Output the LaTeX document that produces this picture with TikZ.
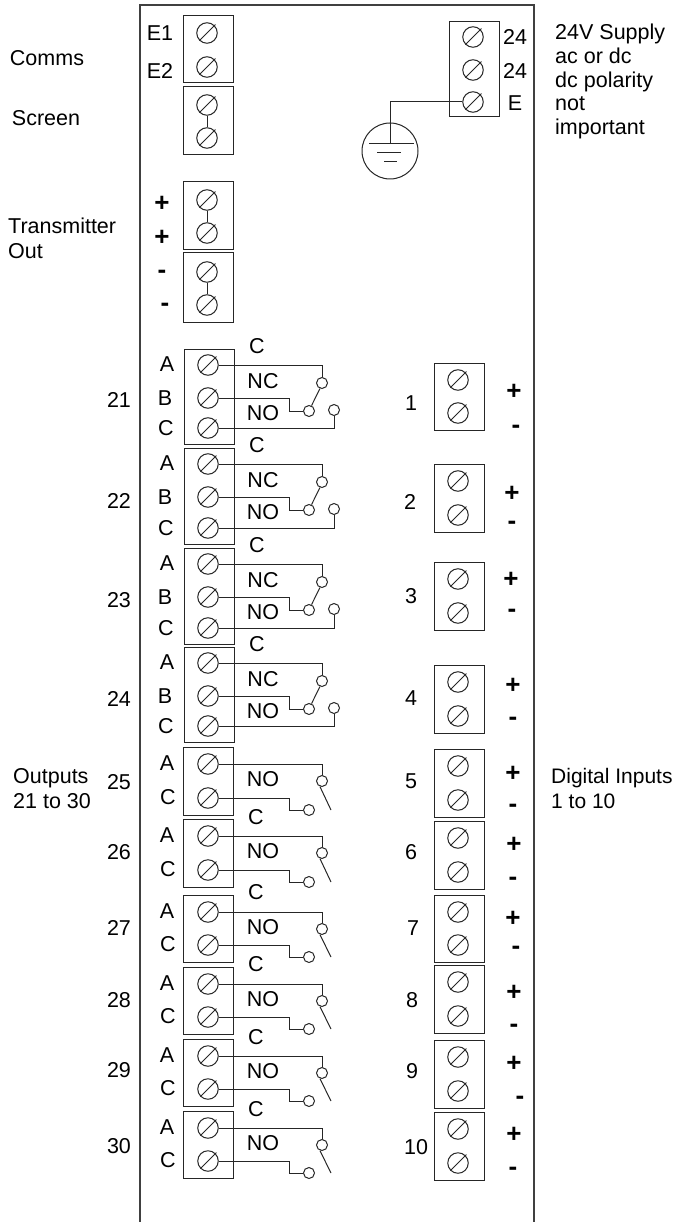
\documentclass[tikz,border=0pt]{standalone}
\usepackage{fontspec}
\setmainfont{Liberation Sans}
\usetikzlibrary{positioning}
\pgfkeys{tikz/lbl/.style={inner sep=0pt,text height=15pt,text depth=0pt,font=\fontsize{21.5}{25}\selectfont}}
\pgfkeys{tikz/sign/.style={inner sep=0pt,text height=17pt,text depth=0pt,font=\fontsize{26}{25}\selectfont\bfseries}}
\pgfkeys{tikz/para/.style={inner sep=0pt,anchor=north west,align=left,font=\fontsize{21.5}{25}\selectfont}}
\pgfkeys{tikz/termbox/.style={draw=black!85,line width=1pt,minimum width=50pt,inner sep=0pt}}
\pgfkeys{tikz/screwhead/.style={circle,draw=black!85,line width=1pt,minimum size=20.5pt,inner sep=0pt}}
\pgfkeys{tikz/contact/.style={circle,draw=black!85,line width=1pt,minimum size=11pt,inner sep=0pt}}
\pgfkeys{tikz/wire/.style={draw=black!85,line width=1pt}}
% one screw: name, x, y
\newcommand{\screw}[3]{%
  \node[screwhead] (#1) at (#2,#3) {};
  \draw[wire] (#1.225) -- ++(16,-16);
}
% box round two or three screws: name, x, top, bottom
\newcommand{\tbox}[4]{%
  \node[termbox,minimum height={((#4)-(#3))*1pt}] (#1) at (#2,{((#3)+(#4))/2}) {};
}
% change-over output: name, A, B, C, number, y of number
\newcommand{\relayout}[6]{%
  \tbox{#1}{209}{#2-16}{#4+16}
  \screw{#1a}{208}{#2} \screw{#1b}{208}{#3} \screw{#1c}{208}{#4}
  \node[contact] (#1com) at (322,#2+18) {};
  \node[contact] (#1nc) at (309,#3+13) {};
  \node[contact] (#1no) at (334,#3+12) {};
  \draw[wire] (#1a) -| (#1com);
  \draw[wire] (#1b) -- (289,#3) |- (#1nc);
  \draw[wire] (#1c) -| (#1no);
  \draw[wire] (#1com.-110) -- (#1nc.65);
  \node[lbl] (#1la) at (167,#2-1) {A};
  \node[lbl] (#1lb) at (165,#3) {B};
  \node[lbl] (#1lc) at (166,#4) {C};
  \node[lbl] (#1lcom) at (257,#2-19) {C};
  \node[lbl] (#1lnc) at (263,#2+15.5) {NC};
  \node[lbl] (#1lno) at (263,#2+47.5) {NO};
  \node[lbl] (#1num) at (119,#6) {#5};
}
% make-only output: name, A, C, number, y of number
\newcommand{\pairout}[5]{%
  \tbox{#1}{208.5}{#2-17}{#3+17}
  \screw{#1a}{208}{#2} \screw{#1c}{208}{#3}
  \node[contact] (#1com) at (322,#2+17) {};
  \node[contact] (#1no) at (309,#3+12) {};
  \coordinate (#1arm) at (331,#3+12);
  \draw[wire] (#1a) -| (#1com);
  \draw[wire] (#1c) -- (289,#3) |- (#1no);
  \draw[wire] (#1com.-110) -- (#1arm);
  \node[lbl] (#1la) at (167,#2-1) {A};
  \node[lbl] (#1lc) at (168,#3-1) {C};
  \node[lbl] (#1lno) at (263,#2+15) {NO};
  \node[lbl] (#1num) at (119,#5) {#4};
}
\begin{document}
\begin{tikzpicture}[x=1pt,y=-1pt]
    \useasboundingbox (0,0) rectangle (674,1222);
    \draw[draw=black!75,line width=1.3pt] (140,1222) -- (140,5) -- (534,5) -- (534,1222);

    % comms and screen
    \tbox{comms}{208}{16}{83}
    \screw{commsa}{207}{33} \screw{commsb}{207}{67}
    \tbox{scrn}{208}{87}{155}
    \screw{scrna}{207}{105} \screw{scrnb}{207}{138}
    \draw[wire] (scrna) -- (scrnb);
    \node[lbl] (lbla) at (160,33) {E1};
    \node[lbl] (lblb) at (160,71) {E2};
    \node[lbl] (lblcomms) at (47,58) {Comms};
    \node[lbl] (lblscrn) at (46,118) {Screen};

    % transmitter
    \tbox{txa}{208.5}{182}{250}
    \screw{txaa}{207}{200} \screw{txab}{207}{233}
    \draw[wire] (txaa) -- (txab);
    \tbox{txb}{208.5}{253}{322}
    \screw{txba}{207}{272} \screw{txbb}{207}{305}
    \draw[wire] (txba) -- (txbb);
    \node[sign] (txp) at (162,203) {+};
    \node[sign] (txq) at (162,237) {+};
    \node[sign] (txm) at (162,270) {-};
    \node[sign] (txn) at (165,303) {-};
    \node[para] (lbltx) at (8,218) {Transmitter\\Out};

    % supply and earth
    \tbox{psu}{474}{22}{117}
    \screw{psua}{473}{37} \screw{psub}{473}{70} \screw{psue}{473}{102}
    \node[lbl] (lblpa) at (515,37) {24};
    \node[lbl] (lblpb) at (515,71) {24};
    \node[lbl] (lblpe) at (515,103) {E};
    \node[para,font=\fontsize{21.5}{23.7}\selectfont] (lblpsu) at (555,24) {24V Supply\\ac or dc\\dc polarity\\not\\important};
    \node[circle,draw=black!85,line width=1pt,minimum size=56pt,inner sep=0pt] (earth) at (390,151) {};
    \coordinate (earthbar) at (390,144);
    \draw[wire] (psue) -| (earthbar);
    \draw[wire] (369,144) -- (414,144);
    \draw[wire] (377,153) -- (401,153);
    \draw[wire] (384,162) -- (397,162);

    % outputs
    \relayout{ra}{365}{398}{428}{21}{400}
    \relayout{rb}{464}{497}{528}{22}{501}
    \relayout{rc}{564}{597}{628}{23}{600}
    \relayout{rd}{663}{696}{726}{24}{699}
    \pairout{pa}{764}{798}{25}{782}
    \pairout{pb}{836}{870}{26}{852}
    \pairout{pc}{912}{945}{27}{928}
    \pairout{pd}{984}{1017}{28}{1000}
    \pairout{pe}{1056}{1089}{29}{1070}
    \pairout{pf}{1128}{1161}{30}{1146}
    \foreach \n/\y in {a/817,b/892,c/964,d/1037,e/1109}
        \node[lbl] (pl\n) at (256,\y) {C};
    \node[para] (lblout) at (13,768) {Outputs\\21 to 30};

    % digital inputs
    \foreach \n/\sa/\sb/\nx/\ny/\px/\py/\mx/\my in {1/380/413/411/403/514/391/516/425,
        2/481/515/410/502/512/493/512/521, 3/579/613/411/596/511/579/512/609,
        4/682/716/411/698/513/685/513/717, 5/766/800/411/781/513/773/513/804,
        6/838/872/411/852/514/844/513/877, 7/912/945/413/928/513/918/516/946,
        8/982/1016/412/1000/514/992/514/1024, 9/1057/1091/412/1071/514/1063/520/1096,
        10/1129/1163/416/1147/514/1134/513/1167} {
        \tbox{di\n}{459}{\sa-17}{\sb+17}
        \screw{di\n a}{458}{\sa} \screw{di\n b}{458}{\sb}
        \node[lbl] (din\n) at (\nx,\ny) {\n};
        \node[sign] (dip\n) at (\px,\py) {+};
        \node[sign] (dim\n) at (\mx,\my) {-};
    }
    \node[para,font=\fontsize{21}{25}\selectfont] (lblin) at (551,768) {Digital Inputs\\1 to 10};
\end{tikzpicture}
\end{document}
